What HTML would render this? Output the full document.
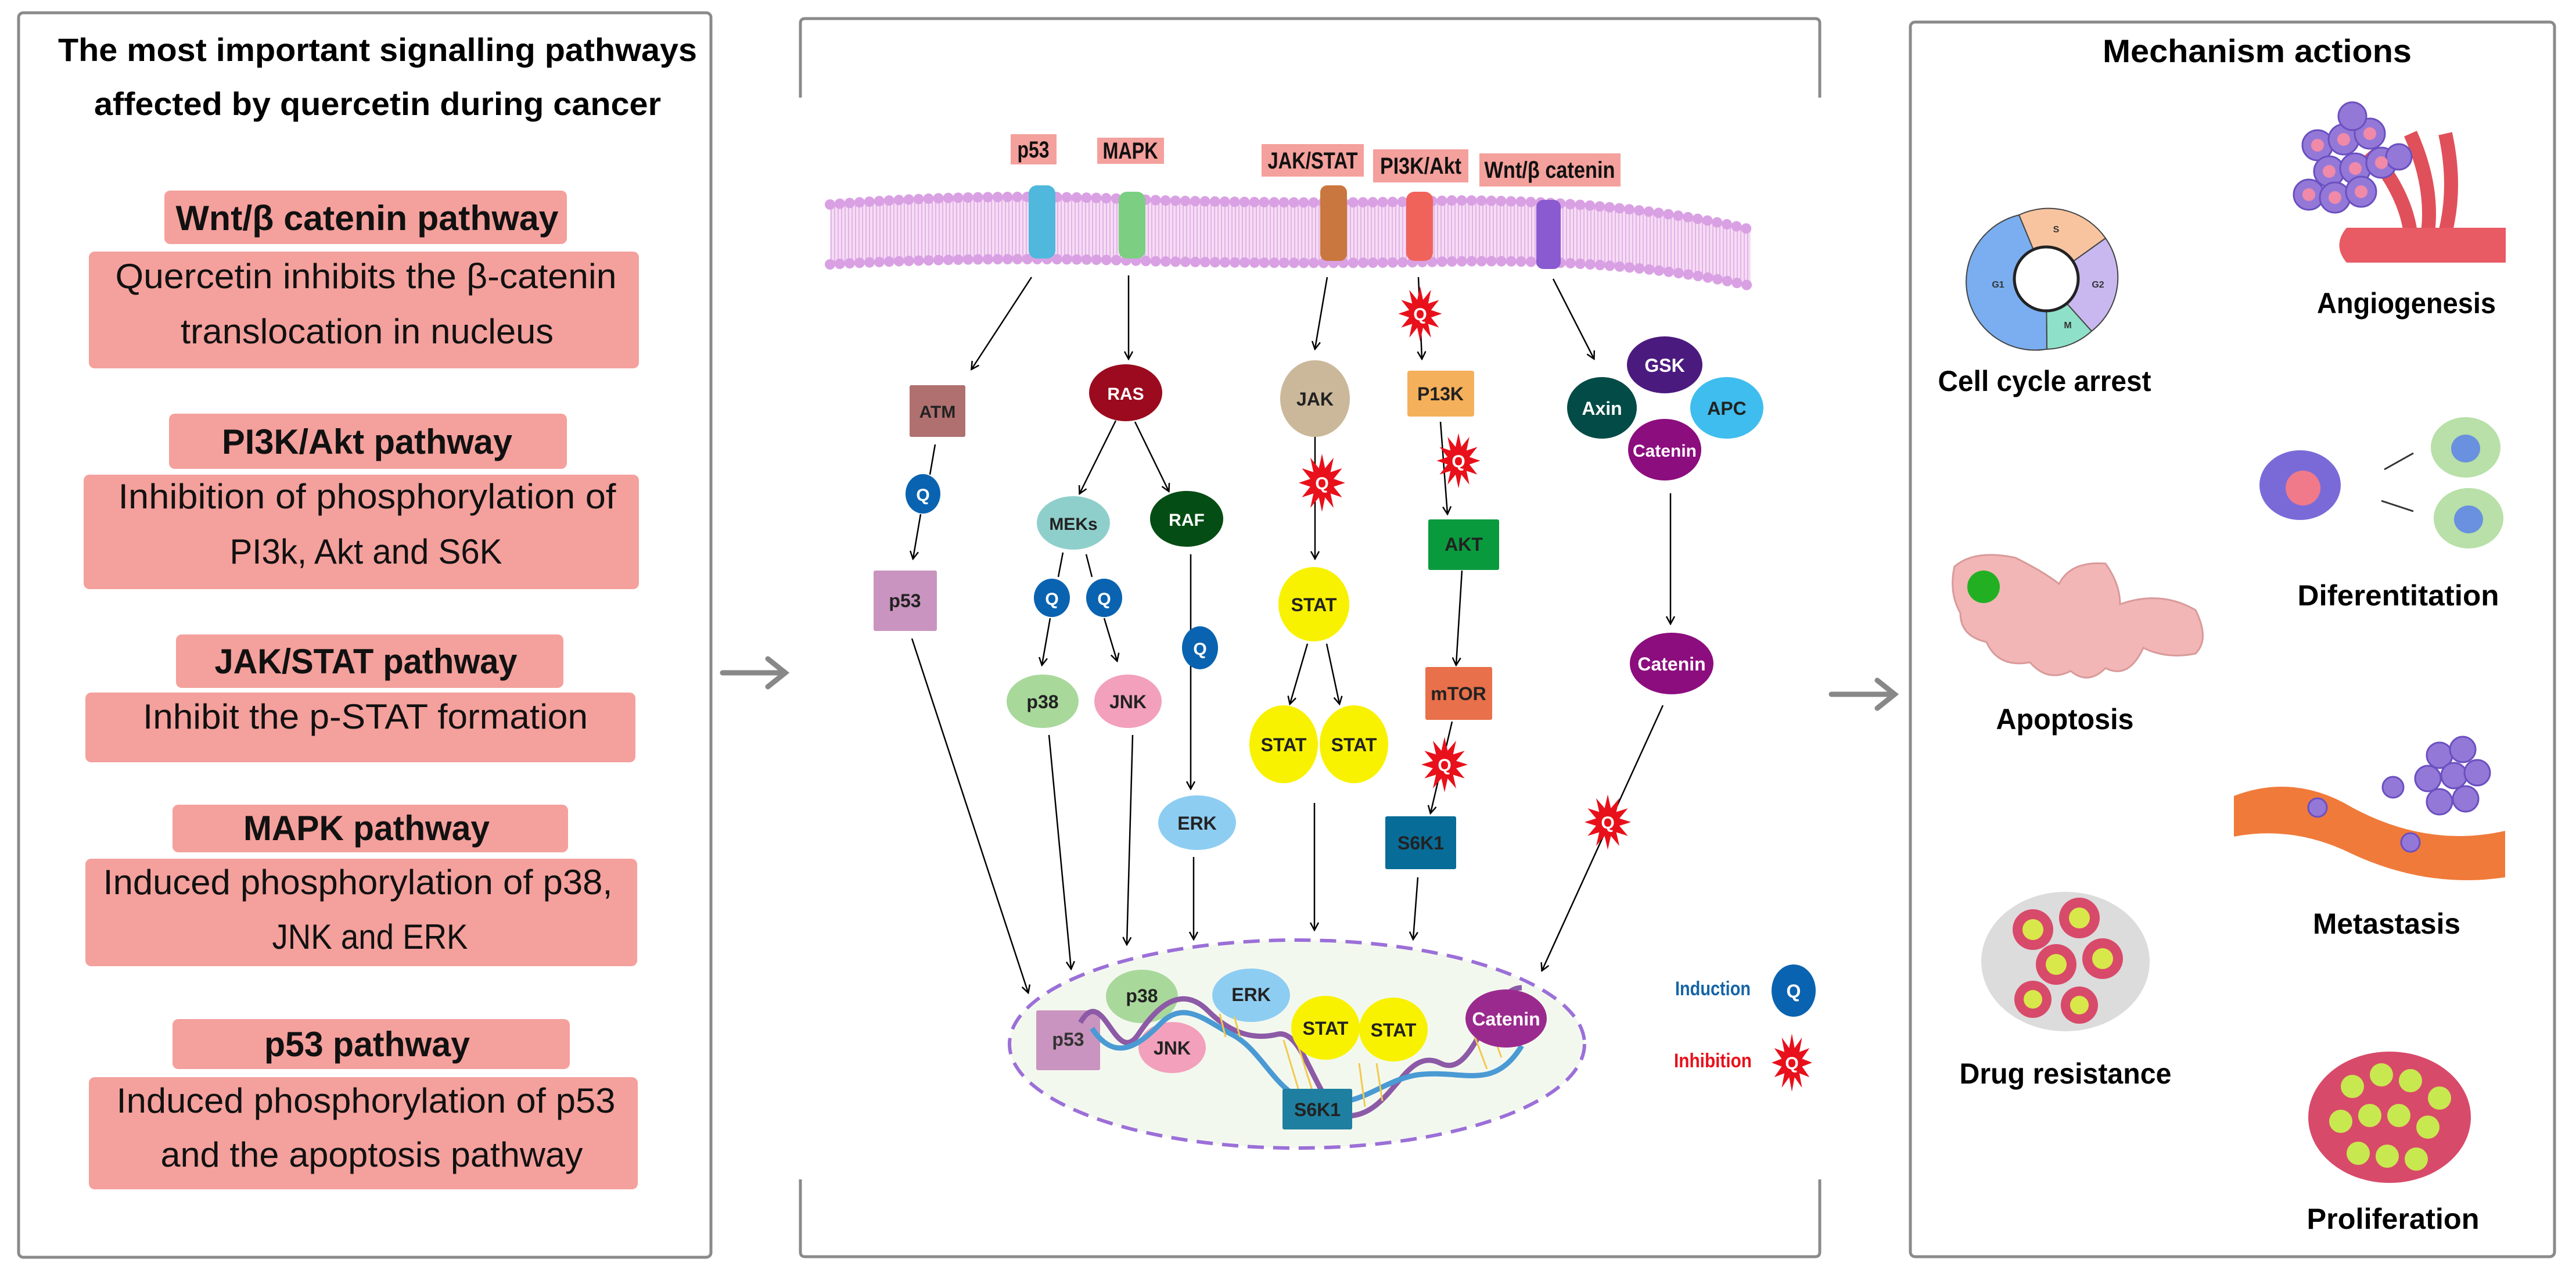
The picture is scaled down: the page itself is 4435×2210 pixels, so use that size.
<!DOCTYPE html>
<html><head><meta charset="utf-8"><style>
html,body{margin:0;padding:0;background:#fff;}
svg{display:block;}
text{font-family:"Liberation Sans",sans-serif;}
</style></head><body>
<svg width="4435" height="2210" viewBox="0 0 4435 2210" xmlns="http://www.w3.org/2000/svg">
<defs>
<marker id="ah" markerWidth="16" markerHeight="16" refX="13" refY="8" orient="auto" markerUnits="userSpaceOnUse">
<path d="M1,1 L14,8 L1,15" fill="none" stroke="#000" stroke-width="2.5"/>
</marker>
<polygon id="star" points="50,0 25.1,6.7 43.3,25 18.4,18.4 25,43.3 6.7,25.1 0,50 -6.7,25.1 -25,43.3 -18.4,18.4 -43.3,25 -25.1,6.7 -50,0 -25.1,-6.7 -43.3,-25 -18.4,-18.4 -25,-43.3 -6.7,-25.1 0,-50 6.7,-25.1 25,-43.3 18.4,-18.4 43.3,-25 25.1,-6.7" fill="#e8101a"/>
<pattern id="tails" width="12" height="40" patternUnits="userSpaceOnUse">
<rect width="12" height="40" fill="#f6dcf5"/>
<path d="M3,0 L3,40 M9,0 L9,40" stroke="#e2b3e6" stroke-width="2"/>
</pattern>
</defs>

<!-- Left panel -->
<rect x="32" y="22" width="1192" height="2142" rx="8" fill="#fff" stroke="#8a8a8a" stroke-width="5"/>
<text x="650" y="105" font-size="56" font-weight="bold" text-anchor="middle" textLength="1100" lengthAdjust="spacingAndGlyphs">The most important signalling pathways</text>
<text x="650" y="198" font-size="56" font-weight="bold" text-anchor="middle" textLength="976" lengthAdjust="spacingAndGlyphs">affected by quercetin during cancer</text>

<g fill="#f4a09c">
<rect x="283" y="328" width="693" height="92" rx="10"/>
<rect x="153" y="433" width="947" height="201" rx="10"/>
<rect x="291" y="712" width="685" height="95" rx="10"/>
<rect x="144" y="817" width="956" height="197" rx="10"/>
<rect x="303" y="1092" width="667" height="92" rx="10"/>
<rect x="147" y="1192" width="947" height="120" rx="10"/>
<rect x="297" y="1385" width="681" height="82" rx="10"/>
<rect x="147" y="1478" width="950" height="185" rx="10"/>
<rect x="297" y="1754" width="684" height="86" rx="10"/>
<rect x="153" y="1854" width="945" height="193" rx="10"/>
</g>
<g font-size="60" text-anchor="middle" fill="#111">
<text x="632" y="396" font-weight="bold" textLength="659" lengthAdjust="spacingAndGlyphs">Wnt/β catenin pathway</text>
<text x="630" y="496" textLength="863" lengthAdjust="spacingAndGlyphs">Quercetin inhibits the β-catenin</text>
<text x="632" y="591" textLength="642" lengthAdjust="spacingAndGlyphs">translocation in nucleus</text>
<text x="632" y="781" font-weight="bold" textLength="500" lengthAdjust="spacingAndGlyphs">PI3K/Akt pathway</text>
<text x="632" y="875" textLength="857" lengthAdjust="spacingAndGlyphs">Inhibition of phosphorylation of</text>
<text x="630" y="970" textLength="469" lengthAdjust="spacingAndGlyphs">PI3k, Akt and S6K</text>
<text x="630" y="1159" font-weight="bold" textLength="521" lengthAdjust="spacingAndGlyphs">JAK/STAT pathway</text>
<text x="629" y="1254" textLength="766" lengthAdjust="spacingAndGlyphs">Inhibit the p-STAT formation</text>
<text x="631" y="1446" font-weight="bold" textLength="424" lengthAdjust="spacingAndGlyphs">MAPK pathway</text>
<text x="616" y="1539" textLength="877" lengthAdjust="spacingAndGlyphs">Induced phosphorylation of p38,</text>
<text x="637" y="1633" textLength="337" lengthAdjust="spacingAndGlyphs">JNK and ERK</text>
<text x="632" y="1818" font-weight="bold" textLength="354" lengthAdjust="spacingAndGlyphs">p53 pathway</text>
<text x="630" y="1915" textLength="859" lengthAdjust="spacingAndGlyphs">Induced phosphorylation of p53</text>
<text x="640" y="2008" textLength="727" lengthAdjust="spacingAndGlyphs">and the apoptosis pathway</text>
</g>

<g stroke="#888" stroke-width="9" fill="none" stroke-linecap="round">
<path d="M1244,1158 L1350,1158 M1322,1134 L1352,1158 L1322,1182"/>
<path d="M3153,1195 L3260,1195 M3232,1171 L3262,1195 L3232,1219"/>
</g>

<g stroke="#8a8a8a" stroke-width="5" fill="none">
<path d="M1378,168 L1378,40 Q1378,32 1386,32 L3125,32 Q3133,32 3133,40 L3133,168"/>
<path d="M1378,2030 L1378,2155 Q1378,2163 1386,2163 L3125,2163 Q3133,2163 3133,2155 L3133,2030"/>
</g>

<path d="M1429,352 Q1700,330 2000,345 Q2300,352 2500,345 Q2800,345 3014,395 L3014,492 Q2800,445 2500,450 Q2300,455 2000,450 Q1700,440 1429,455 Z" fill="url(#tails)"/>
<path d="M1429,352 Q1700,330 2000,345 Q2300,352 2500,345 Q2800,345 3014,395" fill="none" stroke="#d9a1e3" stroke-width="18" stroke-linecap="round" stroke-dasharray="0 17"/>
<path d="M1429,455 Q1700,440 2000,450 Q2300,455 2500,450 Q2800,445 3014,492" fill="none" stroke="#d9a1e3" stroke-width="18" stroke-linecap="round" stroke-dasharray="0 17"/>
<g>
<rect x="1771" y="319" width="46" height="126" rx="14" fill="#4fb8dc"/>
<rect x="1926" y="330" width="46" height="115" rx="14" fill="#7ccf82"/>
<rect x="2273" y="319" width="46" height="130" rx="12" fill="#c9773e"/>
<rect x="2421" y="330" width="46" height="119" rx="14" fill="#f0635a"/>
<rect x="2645" y="344" width="42" height="119" rx="12" fill="#8a5ad0"/>
</g>
<g fill="#f4a09c">
<rect x="1740" y="231" width="79" height="52"/>
<rect x="1889" y="237" width="115" height="45"/>
<rect x="2172" y="248" width="176" height="56"/>
<rect x="2364" y="257" width="164" height="57"/>
<rect x="2547" y="264" width="243" height="57"/>
</g>
<g font-size="40" font-weight="bold" text-anchor="middle" fill="#111">
<text x="1779" y="271" textLength="55" lengthAdjust="spacingAndGlyphs">p53</text>
<text x="1946" y="273" textLength="95" lengthAdjust="spacingAndGlyphs">MAPK</text>
<text x="2260" y="290" textLength="155" lengthAdjust="spacingAndGlyphs">JAK/STAT</text>
<text x="2446" y="299" textLength="140" lengthAdjust="spacingAndGlyphs">PI3K/Akt</text>
<text x="2668" y="306" textLength="225" lengthAdjust="spacingAndGlyphs">Wnt/β catenin</text>
</g>

<g stroke="#000" stroke-width="2.5" fill="none" marker-end="url(#ah)">
<path d="M1776,477 L1673,635"/>
<path d="M1943,474 L1943,617"/>
<path d="M2285,477 L2264,600"/>
<path d="M2442,477 L2448,617"/>
<path d="M2674,480 L2744,617"/>
<path d="M1601,817 L1610,765" marker-end="none"/>
<path d="M1585,885 L1572,961"/>
<path d="M1921,724 L1859,849"/>
<path d="M1954,726 L2012,845"/>
<path d="M2264,752 L2264,961"/>
<path d="M2480,726 L2492,884"/>
<path d="M2876,849 L2876,1073"/>
<path d="M1830,951 L1822,993" marker-end="none"/>
<path d="M1870,954 L1880,993" marker-end="none"/>
<path d="M1808,1064 L1794,1144"/>
<path d="M1901,1064 L1923,1137"/>
<path d="M2050,954 L2050,1357"/>
<path d="M2251,1108 L2221,1211"/>
<path d="M2284,1108 L2306,1211"/>
<path d="M2263,1382 L2263,1600"/>
<path d="M2517,982 L2507,1144"/>
<path d="M2500,1242 L2463,1399"/>
<path d="M2441,1510 L2433,1616"/>
<path d="M2863,1214 L2655,1670"/>
<path d="M1570,1099 L1770,1708"/>
<path d="M1806,1265 L1844,1667"/>
<path d="M1950,1265 L1940,1625"/>
<path d="M2055,1475 L2055,1616"/>
</g>

<g font-size="34" font-weight="bold" text-anchor="middle">
<rect x="1566" y="663" width="96" height="89" rx="3" fill="#b07070"/><text x="1614" y="719" fill="#222" font-size="30">ATM</text>
<ellipse cx="1938" cy="676" rx="63" ry="49" fill="#9b0a1e"/><text x="1938" y="688" fill="#fff" font-size="30">RAS</text>
<ellipse cx="2264" cy="686" rx="60" ry="66" fill="#cbb89a"/><text x="2264" y="698" fill="#222" font-size="32">JAK</text>
<rect x="2423" y="638" width="115" height="79" rx="4" fill="#f4b05a"/><text x="2480" y="689" fill="#222" font-size="32">P13K</text>
<ellipse cx="2866" cy="628" rx="65" ry="49" fill="#4b1a7e"/><text x="2866" y="640" fill="#fff" font-size="32">GSK</text>
<ellipse cx="2758" cy="702" rx="60" ry="53" fill="#024b46"/><text x="2758" y="714" fill="#fff" font-size="32">Axin</text>
<ellipse cx="2973" cy="702" rx="63" ry="53" fill="#3fbdee"/><text x="2973" y="714" fill="#222" font-size="32">APC</text>
<ellipse cx="2866" cy="774" rx="63" ry="53" fill="#8c0d7e"/><text x="2866" y="786" fill="#fff" font-size="30">Catenin</text>
<ellipse cx="1589" cy="850" rx="30" ry="34" fill="#0a63b0"/><text x="1589" y="862" fill="#fff" font-size="30">Q</text>
<rect x="1504" y="982" width="109" height="104" rx="3" fill="#c994bf"/><text x="1558" y="1045" fill="#222" font-size="32">p53</text>
<ellipse cx="1848" cy="900" rx="63" ry="46" fill="#8fcfcb"/><text x="1848" y="912" fill="#222" font-size="30">MEKs</text>
<ellipse cx="2043" cy="893" rx="63" ry="48" fill="#044d14"/><text x="2043" y="905" fill="#fff" font-size="30">RAF</text>
<rect x="2459" y="894" width="122" height="87" rx="3" fill="#0a9a3e"/><text x="2520" y="948" fill="#222" font-size="32">AKT</text>
<ellipse cx="1811" cy="1029" rx="31" ry="33" fill="#0a63b0"/><text x="1811" y="1041" fill="#fff" font-size="30">Q</text>
<ellipse cx="1901" cy="1029" rx="31" ry="33" fill="#0a63b0"/><text x="1901" y="1041" fill="#fff" font-size="30">Q</text>
<ellipse cx="2066" cy="1115" rx="31" ry="37" fill="#0a63b0"/><text x="2066" y="1127" fill="#fff" font-size="30">Q</text>
<ellipse cx="1795" cy="1207" rx="62" ry="46" fill="#a9d89b"/><text x="1795" y="1219" fill="#222" font-size="32">p38</text>
<ellipse cx="1942" cy="1207" rx="58" ry="46" fill="#f2a0bc"/><text x="1942" y="1219" fill="#222" font-size="32">JNK</text>
<ellipse cx="2262" cy="1040" rx="61" ry="64" fill="#f8f200"/><text x="2262" y="1052" fill="#222" font-size="32">STAT</text>
<ellipse cx="2210" cy="1281" rx="59" ry="67" fill="#f8f200"/><text x="2210" y="1293" fill="#222" font-size="32">STAT</text>
<ellipse cx="2331" cy="1281" rx="59" ry="67" fill="#f8f200"/><text x="2331" y="1293" fill="#222" font-size="32">STAT</text>
<rect x="2454" y="1148" width="115" height="91" rx="3" fill="#e8704a"/><text x="2511" y="1205" fill="#222" font-size="32">mTOR</text>
<ellipse cx="2878" cy="1142" rx="72" ry="53" fill="#8c0d7e"/><text x="2878" y="1154" fill="#fff" font-size="32">Catenin</text>
<ellipse cx="2061" cy="1416" rx="67" ry="47" fill="#8ecdf2"/><text x="2061" y="1428" fill="#222" font-size="32">ERK</text>
<rect x="2385" y="1405" width="122" height="91" rx="3" fill="#086c98"/><text x="2446" y="1462" fill="#222" font-size="32">S6K1</text>
</g>

<g>
<use href="#star" transform="translate(2445,540) scale(0.75,0.95)"/>
<use href="#star" transform="translate(2276,831) scale(0.8,1.0)"/>
<use href="#star" transform="translate(2511,793) scale(0.75,0.95)"/>
<use href="#star" transform="translate(2487,1316) scale(0.8,0.95)"/>
<use href="#star" transform="translate(2768,1415) scale(0.8,0.95)"/>
<use href="#star" transform="translate(3085,1829) scale(0.7,1.0)"/>
</g>
<g font-size="30" font-weight="bold" fill="#fff" text-anchor="middle">
<text x="2445" y="551">Q</text><text x="2276" y="842">Q</text><text x="2511" y="804">Q</text>
<text x="2487" y="1327">Q</text><text x="2768" y="1426">Q</text><text x="3085" y="1840">Q</text>
</g>

<ellipse cx="2233" cy="1797" rx="495" ry="179" fill="#f3f8ef" stroke="#9b6fd8" stroke-width="6" stroke-dasharray="28 16"/>
<rect x="1784" y="1739" width="110" height="103" rx="3" fill="#c994bf"/>
<ellipse cx="1966" cy="1715" rx="62" ry="46" fill="#a9d89b"/>
<ellipse cx="2154" cy="1713" rx="67" ry="46" fill="#8ecdf2"/>
<ellipse cx="2018" cy="1803" rx="58" ry="44" fill="#f2a0bc"/>
<g fill="none" stroke-width="9">
<path d="M1860,1760 C1900,1690 1920,1840 1960,1780 C2000,1720 2040,1700 2080,1740 C2120,1780 2160,1790 2200,1780 C2250,1770 2270,1930 2330,1920 C2400,1910 2420,1800 2480,1830 C2540,1860 2560,1700 2620,1700" stroke="#8c5aa6"/>
<path d="M1880,1770 C1920,1830 1960,1800 2000,1760 C2040,1720 2080,1760 2120,1780 C2180,1810 2200,1900 2280,1900 C2350,1900 2380,1860 2440,1850 C2520,1840 2570,1880 2620,1800" stroke="#4a9ad4"/>
</g>
<g stroke="#f2c94c" stroke-width="3">
<path d="M2100,1745 L2110,1785 M2125,1750 L2135,1785 M2210,1790 L2240,1890 M2235,1800 L2265,1895 M2340,1830 L2350,1905 M2370,1830 L2380,1895 M2530,1760 L2560,1840 M2555,1740 L2585,1820"/>
</g>
<ellipse cx="2282" cy="1769" rx="59" ry="55" fill="#f8f200"/>
<ellipse cx="2399" cy="1772" rx="59" ry="55" fill="#f8f200"/>
<ellipse cx="2593" cy="1753" rx="70" ry="50" fill="#9b2a8e"/>
<rect x="2208" y="1874" width="120" height="70" rx="3" fill="#1f7fa0"/>
<g font-size="32" font-weight="bold" text-anchor="middle">
<text x="1839" y="1800" fill="#333">p53</text>
<text x="1966" y="1725" fill="#222">p38</text>
<text x="2154" y="1723" fill="#222">ERK</text>
<text x="2018" y="1815" fill="#222">JNK</text>
<text x="2282" y="1781" fill="#222">STAT</text>
<text x="2399" y="1784" fill="#222">STAT</text>
<text x="2593" y="1765" fill="#fff">Catenin</text>
<text x="2268" y="1921" fill="#222">S6K1</text>
</g>

<text x="2949" y="1713" font-size="34" font-weight="bold" fill="#1565a8" text-anchor="middle" textLength="130" lengthAdjust="spacingAndGlyphs">Induction</text>
<ellipse cx="3088" cy="1705" rx="38" ry="45" fill="#0a63b0"/>
<text x="3088" y="1717" font-size="32" font-weight="bold" fill="#fff" text-anchor="middle">Q</text>
<text x="2949" y="1837" font-size="34" font-weight="bold" fill="#e8101a" text-anchor="middle" textLength="134" lengthAdjust="spacingAndGlyphs">Inhibition</text>

<!-- Right panel -->
<rect x="3289" y="38" width="1109" height="2125" rx="8" fill="#fff" stroke="#8a8a8a" stroke-width="5"/>
<text x="3886" y="107" font-size="56" font-weight="bold" text-anchor="middle" textLength="532" lengthAdjust="spacingAndGlyphs">Mechanism actions</text>

<g stroke="#444" stroke-width="2">
<path d="M3523,483 L3476,370 A119,118 0 0 1 3625,410 Z" fill="#f8c4a0"/>
<path d="M3523,483 L3625,410 A119,118 0 0 1 3601,570 Z" fill="#c9b8f0"/>
<path d="M3523,483 L3601,570 A119,118 0 0 1 3524,601 Z" fill="#8fe0c8"/>
<path d="M3523,483 L3524,601 A119,118 0 0 1 3476,370 Z" fill="#7aaef0"/>
</g>
<circle cx="3523" cy="480" r="55" fill="#fff" stroke="#222" stroke-width="5"/>
<g font-size="16" font-weight="bold" fill="#333" font-family="Liberation Serif" text-anchor="middle">
<text x="3540" y="400">S</text><text x="3612" y="495">G2</text><text x="3560" y="565">M</text><text x="3440" y="495">G1</text>
</g>
<text x="3520" y="673" font-size="50" font-weight="bold" text-anchor="middle" textLength="367" lengthAdjust="spacingAndGlyphs">Cell cycle arrest</text>

<!-- angiogenesis -->
<path d="M4150,400 Q4140,330 4080,260 M4180,400 Q4190,320 4150,230 M4210,400 Q4230,320 4210,230" stroke="#e0505a" stroke-width="24" fill="none"/>
<path d="M4040,392 L4314,392 L4314,452 L4040,452 Q4015,422 4040,392 Z" fill="#e85a64"/>
<g fill="#9478d8" stroke="#6a50c0" stroke-width="3">
<circle cx="3990" cy="250" r="26"/><circle cx="4035" cy="240" r="26"/><circle cx="4080" cy="230" r="26"/><circle cx="4010" cy="295" r="26"/><circle cx="4055" cy="290" r="26"/><circle cx="4100" cy="280" r="26"/><circle cx="3975" cy="335" r="26"/><circle cx="4020" cy="340" r="26"/><circle cx="4065" cy="330" r="26"/><circle cx="4050" cy="200" r="24"/><circle cx="4130" cy="270" r="22"/>
</g>
<g fill="#f08aa8"><circle cx="3990" cy="250" r="11"/><circle cx="4035" cy="240" r="11"/><circle cx="4080" cy="230" r="11"/><circle cx="4010" cy="295" r="11"/><circle cx="4055" cy="290" r="11"/><circle cx="4100" cy="280" r="11"/><circle cx="3975" cy="335" r="11"/><circle cx="4020" cy="340" r="11"/><circle cx="4065" cy="330" r="11"/></g>
<text x="4143" y="539" font-size="50" font-weight="bold" text-anchor="middle" textLength="308" lengthAdjust="spacingAndGlyphs">Angiogenesis</text>

<ellipse cx="3960" cy="835" rx="70" ry="60" fill="#7a6ad8"/>
<ellipse cx="3965" cy="840" rx="30" ry="30" fill="#f07a8a"/>
<ellipse cx="4245" cy="770" rx="60" ry="52" fill="#b8e0a8"/>
<ellipse cx="4245" cy="772" rx="25" ry="24" fill="#6a90e0"/>
<ellipse cx="4250" cy="892" rx="60" ry="52" fill="#b8e0a8"/>
<ellipse cx="4250" cy="894" rx="25" ry="24" fill="#6a90e0"/>
<path d="M4105,808 L4155,780 M4100,862 L4155,880" stroke="#333" stroke-width="3"/>
<text x="4129" y="1042" font-size="50" font-weight="bold" text-anchor="middle" textLength="347" lengthAdjust="spacingAndGlyphs">Diferentitation</text>

<path d="M3365,975 Q3400,945 3470,960 Q3520,985 3545,1005 Q3565,965 3625,970 Q3650,1005 3650,1040 Q3720,1015 3780,1050 Q3805,1100 3780,1125 Q3730,1135 3690,1115 Q3665,1170 3625,1150 Q3595,1180 3565,1155 Q3525,1175 3495,1140 Q3440,1150 3420,1105 Q3375,1095 3375,1055 Q3355,1020 3365,975 Z" fill="#f2b6b6" stroke="#d99a9a" stroke-width="3"/>
<circle cx="3415" cy="1010" r="28" fill="#22b022"/>
<text x="3555" y="1255" font-size="50" font-weight="bold" text-anchor="middle" textLength="237" lengthAdjust="spacingAndGlyphs">Apoptosis</text>

<path d="M3846,1370 Q3950,1330 4050,1390 Q4180,1460 4313,1430 L4313,1510 Q4180,1530 4050,1470 Q3950,1420 3846,1440 Z" fill="#f07a3a"/>
<g fill="#9478d8" stroke="#6a50c0" stroke-width="3">
<circle cx="4200" cy="1300" r="22"/><circle cx="4240" cy="1290" r="22"/><circle cx="4180" cy="1340" r="22"/><circle cx="4225" cy="1335" r="22"/><circle cx="4265" cy="1330" r="22"/><circle cx="4200" cy="1380" r="22"/><circle cx="4245" cy="1375" r="22"/><circle cx="4120" cy="1355" r="18"/><circle cx="3990" cy="1390" r="16"/><circle cx="4150" cy="1450" r="16"/>
</g>
<text x="4109" y="1607" font-size="50" font-weight="bold" text-anchor="middle" textLength="254" lengthAdjust="spacingAndGlyphs">Metastasis</text>

<ellipse cx="3556" cy="1655" rx="145" ry="120" fill="#dcdcdc"/>
<g fill="#d84a6a"><circle cx="3500" cy="1600" r="35"/><circle cx="3580" cy="1580" r="35"/><circle cx="3540" cy="1660" r="35"/><circle cx="3620" cy="1650" r="35"/><circle cx="3500" cy="1720" r="32"/><circle cx="3580" cy="1730" r="32"/></g>
<g fill="#d8e84a"><circle cx="3500" cy="1600" r="18"/><circle cx="3580" cy="1580" r="18"/><circle cx="3540" cy="1660" r="18"/><circle cx="3620" cy="1650" r="18"/><circle cx="3500" cy="1720" r="16"/><circle cx="3580" cy="1730" r="16"/></g>
<text x="3556" y="1865" font-size="50" font-weight="bold" text-anchor="middle" textLength="365" lengthAdjust="spacingAndGlyphs">Drug resistance</text>

<ellipse cx="4114" cy="1923" rx="140" ry="113" fill="#d84a6a"/>
<g fill="#c8e850"><circle cx="4050" cy="1870" r="20"/><circle cx="4100" cy="1850" r="20"/><circle cx="4150" cy="1860" r="20"/><circle cx="4200" cy="1890" r="20"/><circle cx="4030" cy="1930" r="20"/><circle cx="4080" cy="1920" r="20"/><circle cx="4130" cy="1920" r="20"/><circle cx="4180" cy="1940" r="20"/><circle cx="4060" cy="1985" r="20"/><circle cx="4110" cy="1990" r="20"/><circle cx="4160" cy="1995" r="20"/></g>
<text x="4120" y="2115" font-size="50" font-weight="bold" text-anchor="middle" textLength="297" lengthAdjust="spacingAndGlyphs">Proliferation</text>
</svg>
</body></html>
